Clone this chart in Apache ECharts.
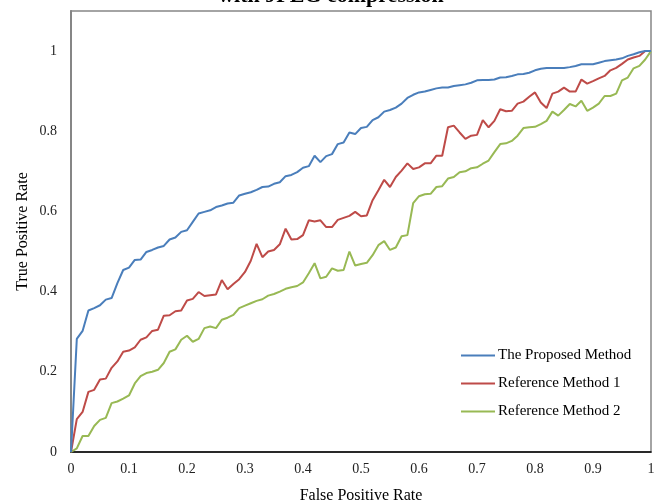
<!DOCTYPE html>
<html>
<head>
<meta charset="utf-8">
<title>ROC</title>
<script src="https://cdn.jsdelivr.net/npm/echarts@6/dist/echarts.min.js"></script>
<style>
  html, body { margin: 0; padding: 0; background: #fff; }
  #chart { width: 662px; height: 502px; }
</style>
</head>
<body>
<div id="chart"></div>
<script>
// false positive rate (x)
var fpr = [0, 0.01, 0.02, 0.03, 0.04, 0.05, 0.06, 0.07, 0.08, 0.09,
  0.1, 0.11, 0.12, 0.13, 0.14, 0.15, 0.16, 0.17, 0.18, 0.19,
  0.2, 0.21, 0.22, 0.23, 0.24, 0.25, 0.26, 0.27, 0.28, 0.29,
  0.3, 0.31, 0.32, 0.33, 0.34, 0.35, 0.36, 0.37, 0.38, 0.39,
  0.4, 0.41, 0.42, 0.43, 0.44, 0.45, 0.46, 0.47, 0.48, 0.49,
  0.5, 0.51, 0.52, 0.53, 0.54, 0.55, 0.56, 0.57, 0.58, 0.59,
  0.6, 0.61, 0.62, 0.63, 0.64, 0.65, 0.66, 0.67, 0.68, 0.69,
  0.7, 0.71, 0.72, 0.73, 0.74, 0.75, 0.76, 0.77, 0.78, 0.79,
  0.8, 0.81, 0.82, 0.83, 0.84, 0.85, 0.86, 0.87, 0.88, 0.89,
  0.9, 0.91, 0.92, 0.93, 0.94, 0.95, 0.96, 0.97, 0.98, 0.99, 1];

// true positive rate, one list per method
var proposed = [0, 0.282, 0.302, 0.353, 0.359, 0.366, 0.38, 0.384, 0.421, 0.454,
  0.46, 0.479, 0.48, 0.499, 0.504, 0.51, 0.514, 0.53, 0.535, 0.549,
  0.553, 0.574, 0.595, 0.599, 0.603, 0.611, 0.615, 0.62, 0.622, 0.64,
  0.644, 0.648, 0.654, 0.661, 0.662, 0.669, 0.673, 0.688, 0.691, 0.698,
  0.709, 0.713, 0.739, 0.723, 0.738, 0.743, 0.768, 0.772, 0.797, 0.793,
  0.808, 0.811, 0.828, 0.835, 0.849, 0.853, 0.859, 0.869, 0.883, 0.891,
  0.897, 0.899, 0.903, 0.907, 0.909, 0.909, 0.913, 0.915, 0.917, 0.921,
  0.927, 0.928, 0.928, 0.929, 0.934, 0.935, 0.938, 0.942, 0.943, 0.946,
  0.952, 0.956, 0.958, 0.958, 0.958, 0.958, 0.96, 0.963, 0.967, 0.967,
  0.967, 0.971, 0.975, 0.977, 0.979, 0.982, 0.988, 0.992, 0.997, 1, 1];

var ref1 = [0, 0.082, 0.1, 0.15, 0.155, 0.181, 0.183, 0.21, 0.226, 0.25,
  0.253, 0.261, 0.28, 0.286, 0.302, 0.305, 0.34, 0.341, 0.351, 0.353,
  0.378, 0.382, 0.399, 0.389, 0.391, 0.393, 0.429, 0.406, 0.419, 0.431,
  0.449, 0.477, 0.519, 0.486, 0.5, 0.504, 0.518, 0.557, 0.53, 0.531,
  0.541, 0.578, 0.575, 0.578, 0.561, 0.561, 0.579, 0.584, 0.589, 0.599,
  0.588, 0.59, 0.628, 0.653, 0.679, 0.661, 0.686, 0.702, 0.72, 0.706,
  0.71, 0.72, 0.72, 0.739, 0.739, 0.81, 0.814, 0.797, 0.781, 0.789,
  0.791, 0.828, 0.81, 0.826, 0.855, 0.85, 0.851, 0.869, 0.874, 0.886,
  0.897, 0.872, 0.858, 0.894, 0.899, 0.909, 0.899, 0.899, 0.929, 0.919,
  0.925, 0.932, 0.938, 0.952, 0.958, 0.968, 0.979, 0.984, 0.988, 1, 1];

var ref2 = [0, 0.009, 0.04, 0.04, 0.065, 0.08, 0.085, 0.122, 0.126, 0.133,
  0.141, 0.171, 0.189, 0.197, 0.2, 0.205, 0.222, 0.25, 0.256, 0.28,
  0.29, 0.275, 0.282, 0.309, 0.313, 0.309, 0.33, 0.335, 0.342, 0.359,
  0.365, 0.371, 0.377, 0.381, 0.39, 0.394, 0.4, 0.407, 0.411, 0.414,
  0.423, 0.446, 0.471, 0.433, 0.437, 0.458, 0.452, 0.454, 0.5, 0.465,
  0.469, 0.472, 0.491, 0.516, 0.526, 0.504, 0.51, 0.538, 0.541, 0.621,
  0.638, 0.643, 0.644, 0.661, 0.663, 0.682, 0.686, 0.698, 0.7, 0.708,
  0.71, 0.719, 0.727, 0.748, 0.768, 0.77, 0.776, 0.789, 0.808, 0.81,
  0.811, 0.818, 0.826, 0.849, 0.839, 0.853, 0.868, 0.862, 0.876, 0.851,
  0.859, 0.869, 0.888, 0.888, 0.894, 0.927, 0.934, 0.957, 0.963, 0.979, 1];

var names = ["The Proposed Method", "Reference Method 1", "Reference Method 2"];
var colors = ["#4a7ebb", "#be4b48", "#98b954"];

function pairs(ys) {
  return fpr.map(function (x, i) { return [x, ys[i]]; });
}

var font = "'Liberation Serif', 'Times New Roman', serif";

function lineSeries(idx, ys) {
  return {
    name: names[idx],
    type: "line",
    data: pairs(ys),
    symbol: "none",
    smooth: false,
    lineStyle: { color: colors[idx], width: 2 },
    itemStyle: { color: colors[idx] },
    z: 3 - idx
  };
}

var option = {
  animation: false,
  backgroundColor: "#fff",
  textStyle: { fontFamily: font },
  grid: {
    left: 71, right: 11, top: 11, bottom: 50,
    outerBoundsMode: "none",
    containLabel: false,
    show: true,
    borderColor: "#868686",
    borderWidth: 1.5
  },
  // title line, mostly cut off at the top of the picture
  graphic: [{
    type: "text",
    left: "center",
    top: -15,
    style: {
      text: "with JPEG compression",
      font: "bold 22px " + font,
      fill: "#000"
    }
  }],
  legend: {
    orient: "vertical",
    left: 461,
    top: 348,
    icon: "rect",
    itemWidth: 34,
    itemHeight: 2,
    itemGap: 13,
    padding: 0,
    textStyle: { fontSize: 15, color: "#000", fontFamily: font, padding: [0, 0, 0, -2] },
    data: names
  },
  xAxis: {
    type: "value",
    min: 0, max: 1, interval: 0.1,
    name: "False Positive Rate",
    nameLocation: "middle",
    nameGap: 36,
    nameMoveOverlap: false,
    nameTextStyle: { fontSize: 16, color: "#000", fontFamily: font },
    axisLine: { show: true, onZero: false, lineStyle: { color: "#000", width: 1.5 } },
    axisTick: { show: false },
    splitLine: { show: false },
    axisLabel: { fontSize: 14, color: "#222", margin: 10, fontFamily: font }
  },
  yAxis: {
    type: "value",
    min: 0, max: 1.1, interval: 0.2,
    name: "True Positive Rate",
    nameLocation: "middle",
    nameGap: 40,
    nameMoveOverlap: false,
    nameTextStyle: { fontSize: 16, color: "#000", fontFamily: font },
    axisLine: { show: true, lineStyle: { color: "#868686", width: 2 } },
    axisTick: { show: false },
    splitLine: { show: false },
    axisLabel: { fontSize: 14, color: "#222", margin: 14, showMaxLabel: false, fontFamily: font }
  },
  series: [
    lineSeries(0, proposed),
    lineSeries(1, ref1),
    lineSeries(2, ref2)
  ]
};

var chartObj = echarts.init(document.getElementById("chart"));
chartObj.setOption(option);
</script>
</body>
</html>
